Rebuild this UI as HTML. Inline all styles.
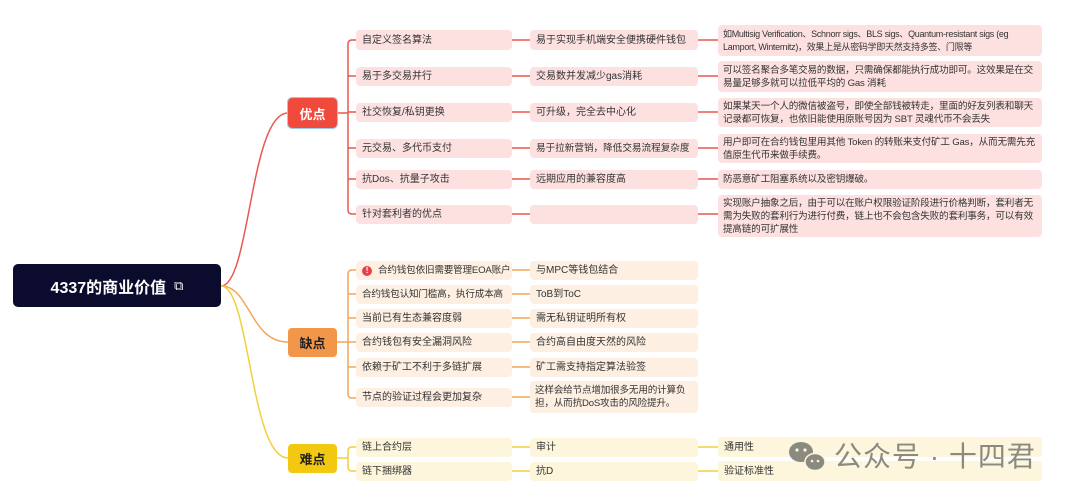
<!DOCTYPE html>
<html><head><meta charset="utf-8"><style>
body{margin:0;width:1080px;height:501px;background:#fff;position:relative;overflow:hidden;font-family:"Liberation Sans","Noto Sans CJK SC",sans-serif}
.b{position:absolute;border-radius:4px;font-size:10px;color:#333;display:flex;align-items:center;padding-left:6px;padding-right:3px;box-sizing:border-box;line-height:13px;white-space:nowrap}
.w{white-space:normal;font-size:9.6px;letter-spacing:-0.2px;padding-left:5px;line-height:13px}
.r{background:#fde1e1}.o{background:#fdefe2}.y{background:#fdf6dc}
.m{position:absolute;border-radius:4px;color:#fff;font-weight:bold;font-size:13px;display:flex;align-items:center;justify-content:center}
svg{position:absolute;left:0;top:0}
</style></head><body>
<svg width="1080" height="501" fill="none">
<g stroke="#e8584f" stroke-width="1.5">
<path d="M221 286 C250 286 250 113 288 113"/>
<path d="M337 113 H348"/>
<path d="M356 40 H352 Q348 40 348 44 V210 Q348 214 352 214 H356"/>
<path d="M348 76 H356 M348 112 H356 M348 148 H356 M348 179 H356"/>
<path d="M512 40 H530 M512 76 H530 M512 112 H530 M512 148 H530 M512 179 H530 M512 214 H530"/>
<path d="M698 40 H718 M698 76 H718 M698 112 H718 M698 148 H718 M698 179 H718 M698 214 H718"/>
</g>
<g stroke="#f4a658" stroke-width="1.5">
<path d="M221 286 C250 286 250 342 288 342"/>
<path d="M337 342 H348"/>
<path d="M356 270 H352 Q348 270 348 274 V394 Q348 398 352 398 H356"/>
<path d="M348 294 H356 M348 318 H356 M348 342 H356 M348 367 H356"/>
<path d="M512 270 H530 M512 294 H530 M512 318 H530 M512 342 H530 M512 367 H530 M512 397 H530"/>
</g>
<g stroke="#f2cf3b" stroke-width="1.5">
<path d="M221 286 C250 286 250 458 288 458"/>
<path d="M337 458 H348"/>
<path d="M356 447 H352 Q348 447 348 451 V467 Q348 471 352 471 H356"/>
<path d="M512 447 H530 M512 471 H530 M698 447 H718 M698 471 H718"/>
</g>
</svg>
<div class="m" style="left:13px;top:264px;width:208px;height:43px;background:#0b0b2e;font-size:16px;border-radius:5px">4337的商业价值 <span style="font-size:13px;margin-left:8px;font-weight:normal">⧉</span></div>
<div class="m" style="left:288px;top:98px;width:49px;height:30px;background:#f04a3c;outline:1px solid #9cc8f0">优点</div>
<div class="m" style="left:288px;top:328px;width:49px;height:29px;background:#f2964a;color:#222">缺点</div>
<div class="m" style="left:288px;top:444px;width:49px;height:29px;background:#f2c811;color:#222">难点</div>

<div class="b r" style="left:356px;top:30px;width:156px;height:20px">自定义签名算法</div>
<div class="b r" style="left:356px;top:67px;width:156px;height:19px">易于多交易并行</div>
<div class="b r" style="left:356px;top:103px;width:156px;height:19px">社交恢复/私钥更换</div>
<div class="b r" style="left:356px;top:139px;width:156px;height:19px">元交易、多代币支付</div>
<div class="b r" style="left:356px;top:170px;width:156px;height:19px">抗Dos、抗量子攻击</div>
<div class="b r" style="left:356px;top:205px;width:156px;height:19px">针对套利者的优点</div>
<div class="b r" style="left:530px;top:30px;width:168px;height:20px">易于实现手机端安全便携硬件钱包</div>
<div class="b r" style="left:530px;top:67px;width:168px;height:19px">交易数并发减少gas消耗</div>
<div class="b r" style="left:530px;top:103px;width:168px;height:19px">可升级，完全去中心化</div>
<div class="b r" style="left:530px;top:139px;width:168px;height:19px;font-size:9.6px">易于拉新营销，降低交易流程复杂度</div>
<div class="b r" style="left:530px;top:170px;width:168px;height:19px">远期应用的兼容度高</div>
<div class="b r" style="left:530px;top:205px;width:168px;height:19px"></div>
<div class="b r w" style="left:718px;top:25px;width:324px;height:31px;font-size:9px;letter-spacing:-0.3px">如Multisig Verification、Schnorr sigs、BLS sigs、Quantum-resistant sigs (eg Lamport, Winternitz)，效果上是从密码学即天然支持多签、门限等</div>
<div class="b r w" style="left:718px;top:61px;width:324px;height:31px">可以签名聚合多笔交易的数据，只需确保都能执行成功即可。这效果是在交易量足够多就可以拉低平均的 Gas 消耗</div>
<div class="b r w" style="left:718px;top:98px;width:324px;height:29px">如果某天一个人的微信被盗号，即使全部钱被转走，里面的好友列表和聊天记录都可恢复，也依旧能使用原账号因为 SBT 灵魂代币不会丢失</div>
<div class="b r w" style="left:718px;top:134px;width:324px;height:29px">用户即可在合约钱包里用其他 Token 的转账来支付矿工 Gas，从而无需先充值原生代币来做手续费。</div>
<div class="b r w" style="left:718px;top:170px;width:324px;height:19px">防恶意矿工阻塞系统以及密钥爆破。</div>
<div class="b r w" style="left:718px;top:195px;width:324px;height:42px">实现账户抽象之后，由于可以在账户权限验证阶段进行价格判断，套利者无需为失败的套利行为进行付费，链上也不会包含失败的套利事务，可以有效提高链的可扩展性</div>

<div class="b o" style="left:356px;top:261px;width:156px;height:19px;font-size:9.6px;letter-spacing:-0.2px"><span style="display:inline-block;flex:none;width:10px;height:10px;border-radius:50%;background:#e8404a;color:#fff;font-size:8px;text-align:center;line-height:10px;margin-right:6px;font-weight:bold">!</span>合约钱包依旧需要管理EOA账户</div>
<div class="b o" style="left:356px;top:285px;width:156px;height:19px;font-size:9.6px;letter-spacing:-0.2px">合约钱包认知门槛高，执行成本高</div>
<div class="b o" style="left:356px;top:309px;width:156px;height:19px">当前已有生态兼容度弱</div>
<div class="b o" style="left:356px;top:333px;width:156px;height:19px">合约钱包有安全漏洞风险</div>
<div class="b o" style="left:356px;top:358px;width:156px;height:19px">依赖于矿工不利于多链扩展</div>
<div class="b o" style="left:356px;top:388px;width:156px;height:19px">节点的验证过程会更加复杂</div>
<div class="b o" style="left:530px;top:261px;width:168px;height:19px">与MPC等钱包结合</div>
<div class="b o" style="left:530px;top:285px;width:168px;height:19px">ToB到ToC</div>
<div class="b o" style="left:530px;top:309px;width:168px;height:19px">需无私钥证明所有权</div>
<div class="b o" style="left:530px;top:333px;width:168px;height:19px">合约高自由度天然的风险</div>
<div class="b o" style="left:530px;top:358px;width:168px;height:19px">矿工需支持指定算法验签</div>
<div class="b o w" style="left:530px;top:381px;width:168px;height:32px">这样会给节点增加很多无用的计算负担，从而抗DoS攻击的风险提升。</div>

<div class="b y" style="left:356px;top:438px;width:156px;height:19px">链上合约层</div>
<div class="b y" style="left:356px;top:462px;width:156px;height:19px">链下捆绑器</div>
<div class="b y" style="left:530px;top:438px;width:168px;height:19px">审计</div>
<div class="b y" style="left:530px;top:462px;width:168px;height:19px">抗D</div>
<div class="b y" style="left:718px;top:437px;width:324px;height:20px">通用性</div>
<div class="b y" style="left:718px;top:461px;width:324px;height:20px">验证标准性</div>

<svg width="1080" height="501">
<ellipse cx="801" cy="452" rx="12" ry="10" fill="#8a8a80"/>
<ellipse cx="815" cy="462" rx="10" ry="8.5" fill="#8a8a80" stroke="#fdf6dc" stroke-width="1.5"/>
<circle cx="797" cy="450" r="1.6" fill="#fdf6dc"/><circle cx="805" cy="450" r="1.6" fill="#fdf6dc"/>
<circle cx="812" cy="461" r="1.3" fill="#fdf6dc"/><circle cx="818" cy="461" r="1.3" fill="#fdf6dc"/>
</svg>
<div style="position:absolute;left:834px;top:440px;font-size:28px;color:#8a8a80;line-height:34px;letter-spacing:1px">公众号 · 十四君</div>
</body></html>
